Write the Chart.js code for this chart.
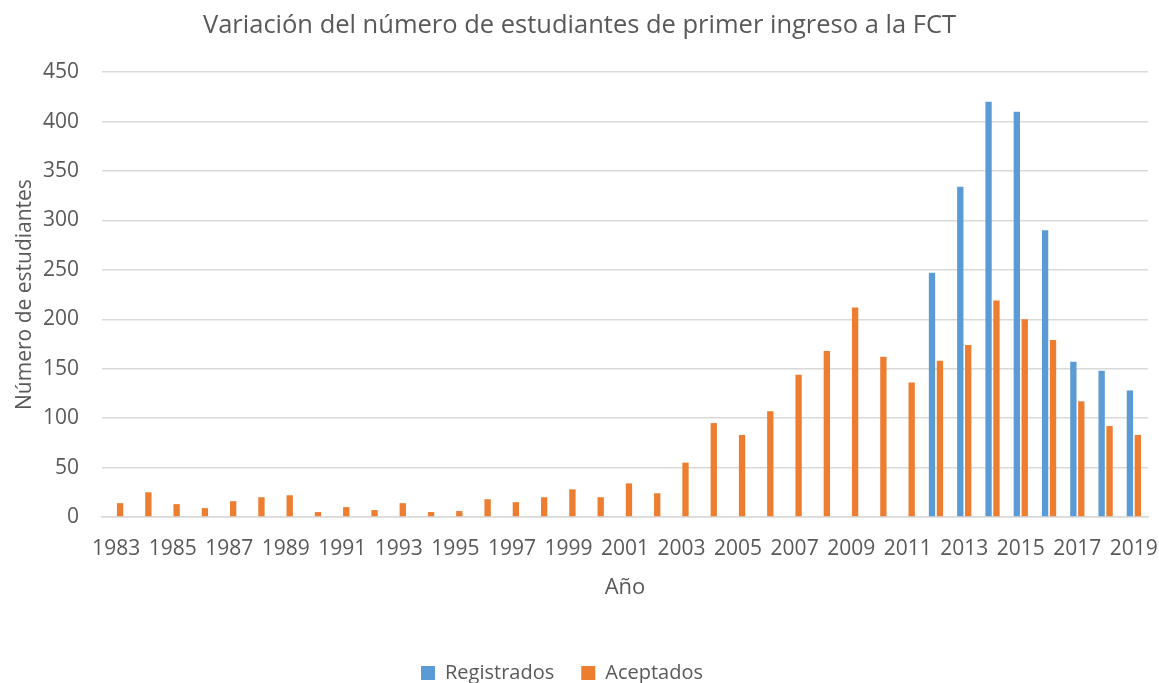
<!DOCTYPE html>
<html>
<head>
<meta charset="utf-8">
<script src="https://cdn.jsdelivr.net/npm/chart.js@4"></script>
<style>
  html, body { margin: 0; padding: 0; background: #fff; overflow: hidden; }
  #wrap { width: 1159px; height: 683px; overflow: hidden; }
</style>
</head>
<body>
<div id="wrap"><canvas id="studentsChart" width="1159" height="693"></canvas></div>
<script>
// --- Data ---
const years = [
  "1983", "1984", "1985", "1986", "1987", "1988", "1989", "1990", "1991", "1992",
  "1993", "1994", "1995", "1996", "1997", "1998", "1999", "2000", "2001", "2002",
  "2003", "2004", "2005", "2006", "2007", "2008", "2009", "2010", "2011", "2012",
  "2013", "2014", "2015", "2016", "2017", "2018", "2019",
];
// registrados only reported from 2012 on
const registrados = [
  null, null, null, null, null, null, null, null, null, null,
  null, null, null, null, null, null, null, null, null, null,
  null, null, null, null, null, null, null, null, null, 247,
  334, 420, 410, 290, 157, 148, 128,
];
const aceptados = [
  14, 25, 13, 9, 16, 20, 22, 5, 10, 7,
  14, 5, 6, 18, 15, 20, 28, 20, 34, 24,
  55, 95, 83, 107, 144, 168, 212, 162, 136, 158,
  174, 219, 200, 179, 117, 92, 83,
];
const yTicks = [0, 50, 100, 150, 200, 250, 300, 350, 400, 450];

// --- Style ---
const textColor = "#595959";
const gridColor = "#d9d9d9";
const fontFamily = "'Open Sans', sans-serif";

// legend a bit left, title centred on the whole canvas
const boxNudge = {
  id: "boxNudge",
  afterLayout(chart) {
    chart.legend.right -= 24;
    chart.titleBlock.right += 11;
  },
};

const ctx = document.getElementById("studentsChart").getContext("2d");

new Chart(ctx, {
  type: "bar",
  data: {
    labels: years,
    datasets: [
      {
        label: "Registrados",
        data: registrados,
        backgroundColor: "#5b9bd5",
        categoryPercentage: 0.56,
        barPercentage: 0.8,
      },
      {
        label: "Aceptados",
        data: aceptados,
        backgroundColor: "#ed7d31",
        categoryPercentage: 0.56,
        barPercentage: 0.8,
      },
    ],
  },
  plugins: [boxNudge],
  options: {
    responsive: false,
    animation: false,
    layout: { padding: { left: 0, right: 11, top: 0, bottom: 0 } },
    plugins: {
      title: {
        display: true,
        text: "Variación del número de estudiantes de primer ingreso a la FCT",
        color: textColor,
        font: { family: fontFamily, size: 25.5, weight: "normal" },
        padding: { top: 10, bottom: 31.5 },
      },
      legend: {
        position: "bottom",
        labels: {
          color: textColor,
          font: { family: fontFamily, size: 20 },
          boxWidth: 14,
          boxHeight: 14,
          padding: 27,
        },
      },
      tooltip: { enabled: false },
    },
    scales: {
      x: {
        grid: { display: false, drawTicks: false },
        border: { display: true, color: gridColor, width: 1.5 },
        ticks: {
          color: textColor,
          font: { family: fontFamily, size: 21 },
          autoSkip: false,
          maxRotation: 0,
          padding: 19,
          callback: function (value, index) {
            return index % 2 === 0 ? years[index] : "";
          },
        },
        title: {
          display: true,
          text: "Año",
          color: textColor,
          font: { family: fontFamily, size: 22 },
          padding: { top: 10, bottom: 35 },
        },
        afterFit: (scale) => {
          scale.height = 119;
          scale.paddingLeft = 0;
          scale.paddingRight = 0;
        },
      },
      y: {
        min: 0,
        max: 450,
        grid: { color: gridColor, lineWidth: 1.5, drawTicks: false },
        border: { display: false },
        afterBuildTicks: (scale) => { scale.ticks = yTicks.map((v) => ({ value: v })); },
        ticks: {
          color: textColor,
          font: { family: fontFamily, size: 21 },
          padding: 23,
        },
        title: {
          display: true,
          text: "Número de estudiantes",
          color: textColor,
          font: { family: fontFamily, size: 21 },
          padding: { top: 12, bottom: 0 },
        },
        afterFit: (scale) => { scale.width = 102; },
      },
    },
  },
});
</script>
</body>
</html>
